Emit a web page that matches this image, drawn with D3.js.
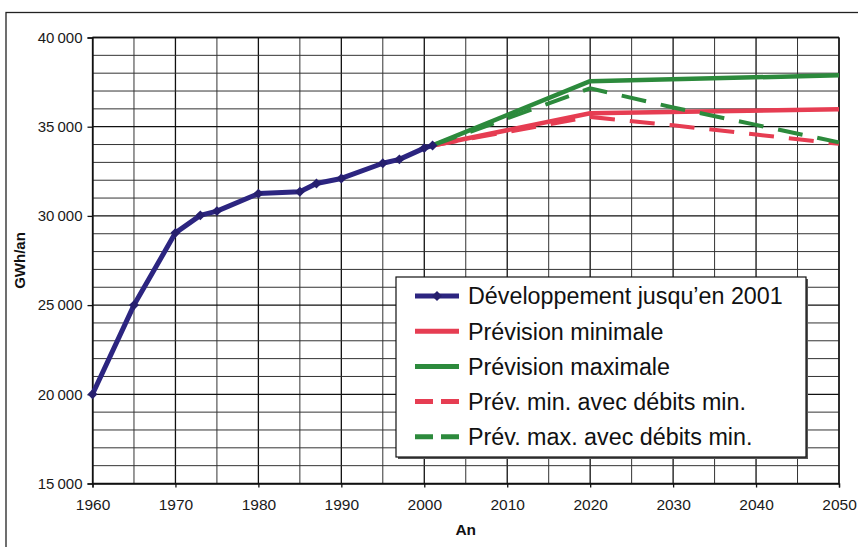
<!DOCTYPE html>
<html>
<head>
<meta charset="utf-8">
<script src="https://cdn.jsdelivr.net/npm/d3@7/dist/d3.min.js"></script>
<style>
  html, body { margin: 0; padding: 0; background: #fff; }
  svg { display: block; font-family: "Liberation Sans", Arial, sans-serif; }
</style>
</head>
<body>
<svg id="chart" width="858" height="547"></svg>
<script>
// ---- data ----
const histYears  = [1960, 1965, 1970, 1973, 1975, 1980, 1985, 1987, 1990, 1995, 1997, 2000, 2001];
const histValues = [20000, 25000, 29050, 30030, 30270, 31250, 31350, 31820, 32100, 32950, 33170, 33800, 33950];

const fcYears      = [2001, 2020, 2050];
const minValues    = [33950, 35750, 35980];
const maxValues    = [33950, 37550, 37880];

const dashYears    = [2001, 2020, 2030, 2040, 2050];
const minDryValues = [33950, 35550, 35080, 34560, 34040];
const maxDryValues = [33950, 37150, 36080, 35100, 34120];

const xTicks = [1960, 1970, 1980, 1990, 2000, 2010, 2020, 2030, 2040, 2050];
const yTicks = [15000, 20000, 25000, 30000, 35000, 40000];
const yTickLabels = ["15\u2009000", "20\u2009000", "25\u2009000", "30\u2009000", "35\u2009000", "40\u2009000"];

const legendLabels = [
  "Développement jusqu\u2019en 2001",
  "Prévision minimale",
  "Prévision maximale",
  "Prév. min. avec débits min.",
  "Prév. max. avec débits min."
];

const colors = { hist: "#2c2580", min: "#e63d52", max: "#2c8a3c" };

// ---- layout ----
const svg = d3.select("#chart");
const x = d3.scaleLinear().domain([1960, 2050]).range([92.5, 839]);
const y = d3.scaleLinear().domain([15000, 40000]).range([483.5, 37.5]);

// outer frame
svg.append("rect").attr("x", 6).attr("y", 12.5).attr("width", 900).attr("height", 600)
  .attr("fill", "none").attr("stroke", "#222").attr("stroke-width", 1.3);

// grid
const g = svg.append("g");
const vYears = d3.range(1960, 2051, 5);
g.selectAll("line.v").data(vYears).join("line")
  .attr("x1", d => x(d)).attr("x2", d => x(d))
  .attr("y1", y(40000)).attr("y2", y(15000))
  .attr("stroke", d => d % 10 === 0 ? "#111" : "#333")
  .attr("stroke-width", d => d % 10 === 0 ? 1.3 : 1);
const hVals = d3.range(15000, 40001, 1000);
g.selectAll("line.h").data(hVals).join("line")
  .attr("x1", x(1960)).attr("x2", x(2050))
  .attr("y1", d => y(d)).attr("y2", d => y(d))
  .attr("stroke", d => d % 5000 === 0 ? "#111" : "#333")
  .attr("stroke-width", d => d % 5000 === 0 ? 1.3 : 1);

// axes
const xAxis = d3.axisBottom(x).tickValues(xTicks).tickFormat(d3.format("d")).tickSize(4).tickPadding(11);
const yAxis = d3.axisLeft(y).tickValues(yTicks).tickFormat((d, i) => yTickLabels[i]).tickSize(5).tickPadding(5);

const xg = svg.append("g").attr("transform", `translate(0,${y(15000)})`).call(xAxis);
const yg = svg.append("g").attr("transform", `translate(${x(1960)},0)`).call(yAxis);
[xg, yg].forEach(a => {
  a.attr("font-family", null).attr("font-size", null);
  a.select(".domain").attr("stroke", "#111").attr("stroke-width", 1.3);
  a.selectAll(".tick line").attr("stroke", "#111").attr("stroke-width", 1.3);
  a.selectAll("text").attr("fill", "#1a1a1a");
});
xg.selectAll("text").style("font-size", "15.5px");
yg.selectAll("text").style("font-size", "15px");

// top & right frame of plot
svg.append("line").attr("x1", x(1960)).attr("x2", x(2050)).attr("y1", y(40000)).attr("y2", y(40000))
  .attr("stroke", "#111").attr("stroke-width", 1.3);
svg.append("line").attr("x1", x(2050)).attr("x2", x(2050)).attr("y1", y(40000)).attr("y2", y(15000))
  .attr("stroke", "#111").attr("stroke-width", 1.3);

// axis titles
svg.append("text").attr("x", x(2005)).attr("y", 535).attr("text-anchor", "middle")
  .style("font-size", "15.5px").style("font-weight", "bold").attr("fill", "#111").text("An");
svg.append("text").attr("transform", `translate(25,${y(27500)}) rotate(-90)`).attr("text-anchor", "middle")
  .style("font-size", "15px").style("font-weight", "bold").attr("fill", "#111").text("GWh/an");

// lines
const line = (xs, vs) => d3.line().x((d, i) => x(xs[i])).y(d => y(d))(vs);

svg.append("path").attr("d", line(fcYears, minValues)).attr("fill", "none")
  .attr("stroke", colors.min).attr("stroke-width", 4.5).attr("stroke-linejoin", "round");
svg.append("path").attr("d", line(fcYears, maxValues)).attr("fill", "none")
  .attr("stroke", colors.max).attr("stroke-width", 4.5).attr("stroke-linejoin", "round");
svg.append("path").attr("d", line(dashYears, minDryValues)).attr("fill", "none")
  .attr("stroke", colors.min).attr("stroke-width", 4).attr("stroke-dasharray", "25,15");
svg.append("path").attr("d", line(dashYears, maxDryValues)).attr("fill", "none")
  .attr("stroke", colors.max).attr("stroke-width", 4).attr("stroke-dasharray", "25,15");

svg.append("path").attr("d", line(histYears, histValues)).attr("fill", "none")
  .attr("stroke", colors.hist).attr("stroke-width", 5).attr("stroke-linejoin", "round");
svg.selectAll("rect.mk").data(histValues).join("rect")
  .attr("x", (d, i) => x(histYears[i]) - 3.5).attr("y", d => y(d) - 3.5)
  .attr("width", 7).attr("height", 7).attr("fill", "#261f6e")
  .attr("transform", (d, i) => `rotate(45,${x(histYears[i])},${y(d)})`);

// legend
const lg = svg.append("g");
lg.append("rect").attr("x", 398).attr("y", 279).attr("width", 410).attr("height", 180).attr("fill", "#555");
lg.append("rect").attr("x", 396).attr("y", 277).attr("width", 410).attr("height", 180)
  .attr("fill", "#fff").attr("stroke", "#111").attr("stroke-width", 1.2);
const legStyles = [
  { c: colors.hist, dash: null },
  { c: colors.min, dash: null },
  { c: colors.max, dash: null },
  { c: colors.min, dash: "18,8" },
  { c: colors.max, dash: "18,8" }
];
legendLabels.forEach((lab, i) => {
  const cy = 296 + i * 35.2;
  const s = legStyles[i];
  const l = lg.append("line").attr("x1", 415).attr("x2", 459).attr("y1", cy).attr("y2", cy)
    .attr("stroke", s.c).attr("stroke-width", 5);
  if (s.dash) l.attr("stroke-dasharray", s.dash);
  if (i === 0) {
    lg.append("rect").attr("x", 433.5).attr("y", cy - 3.5).attr("width", 7).attr("height", 7)
      .attr("fill", "#261f6e").attr("transform", `rotate(45,437,${cy})`);
  }
  lg.append("text").attr("x", 468).attr("y", cy).attr("dy", "0.36em")
    .style("font-size", "23.3px").attr("fill", "#111").text(lab);
});
</script>
</body>
</html>
